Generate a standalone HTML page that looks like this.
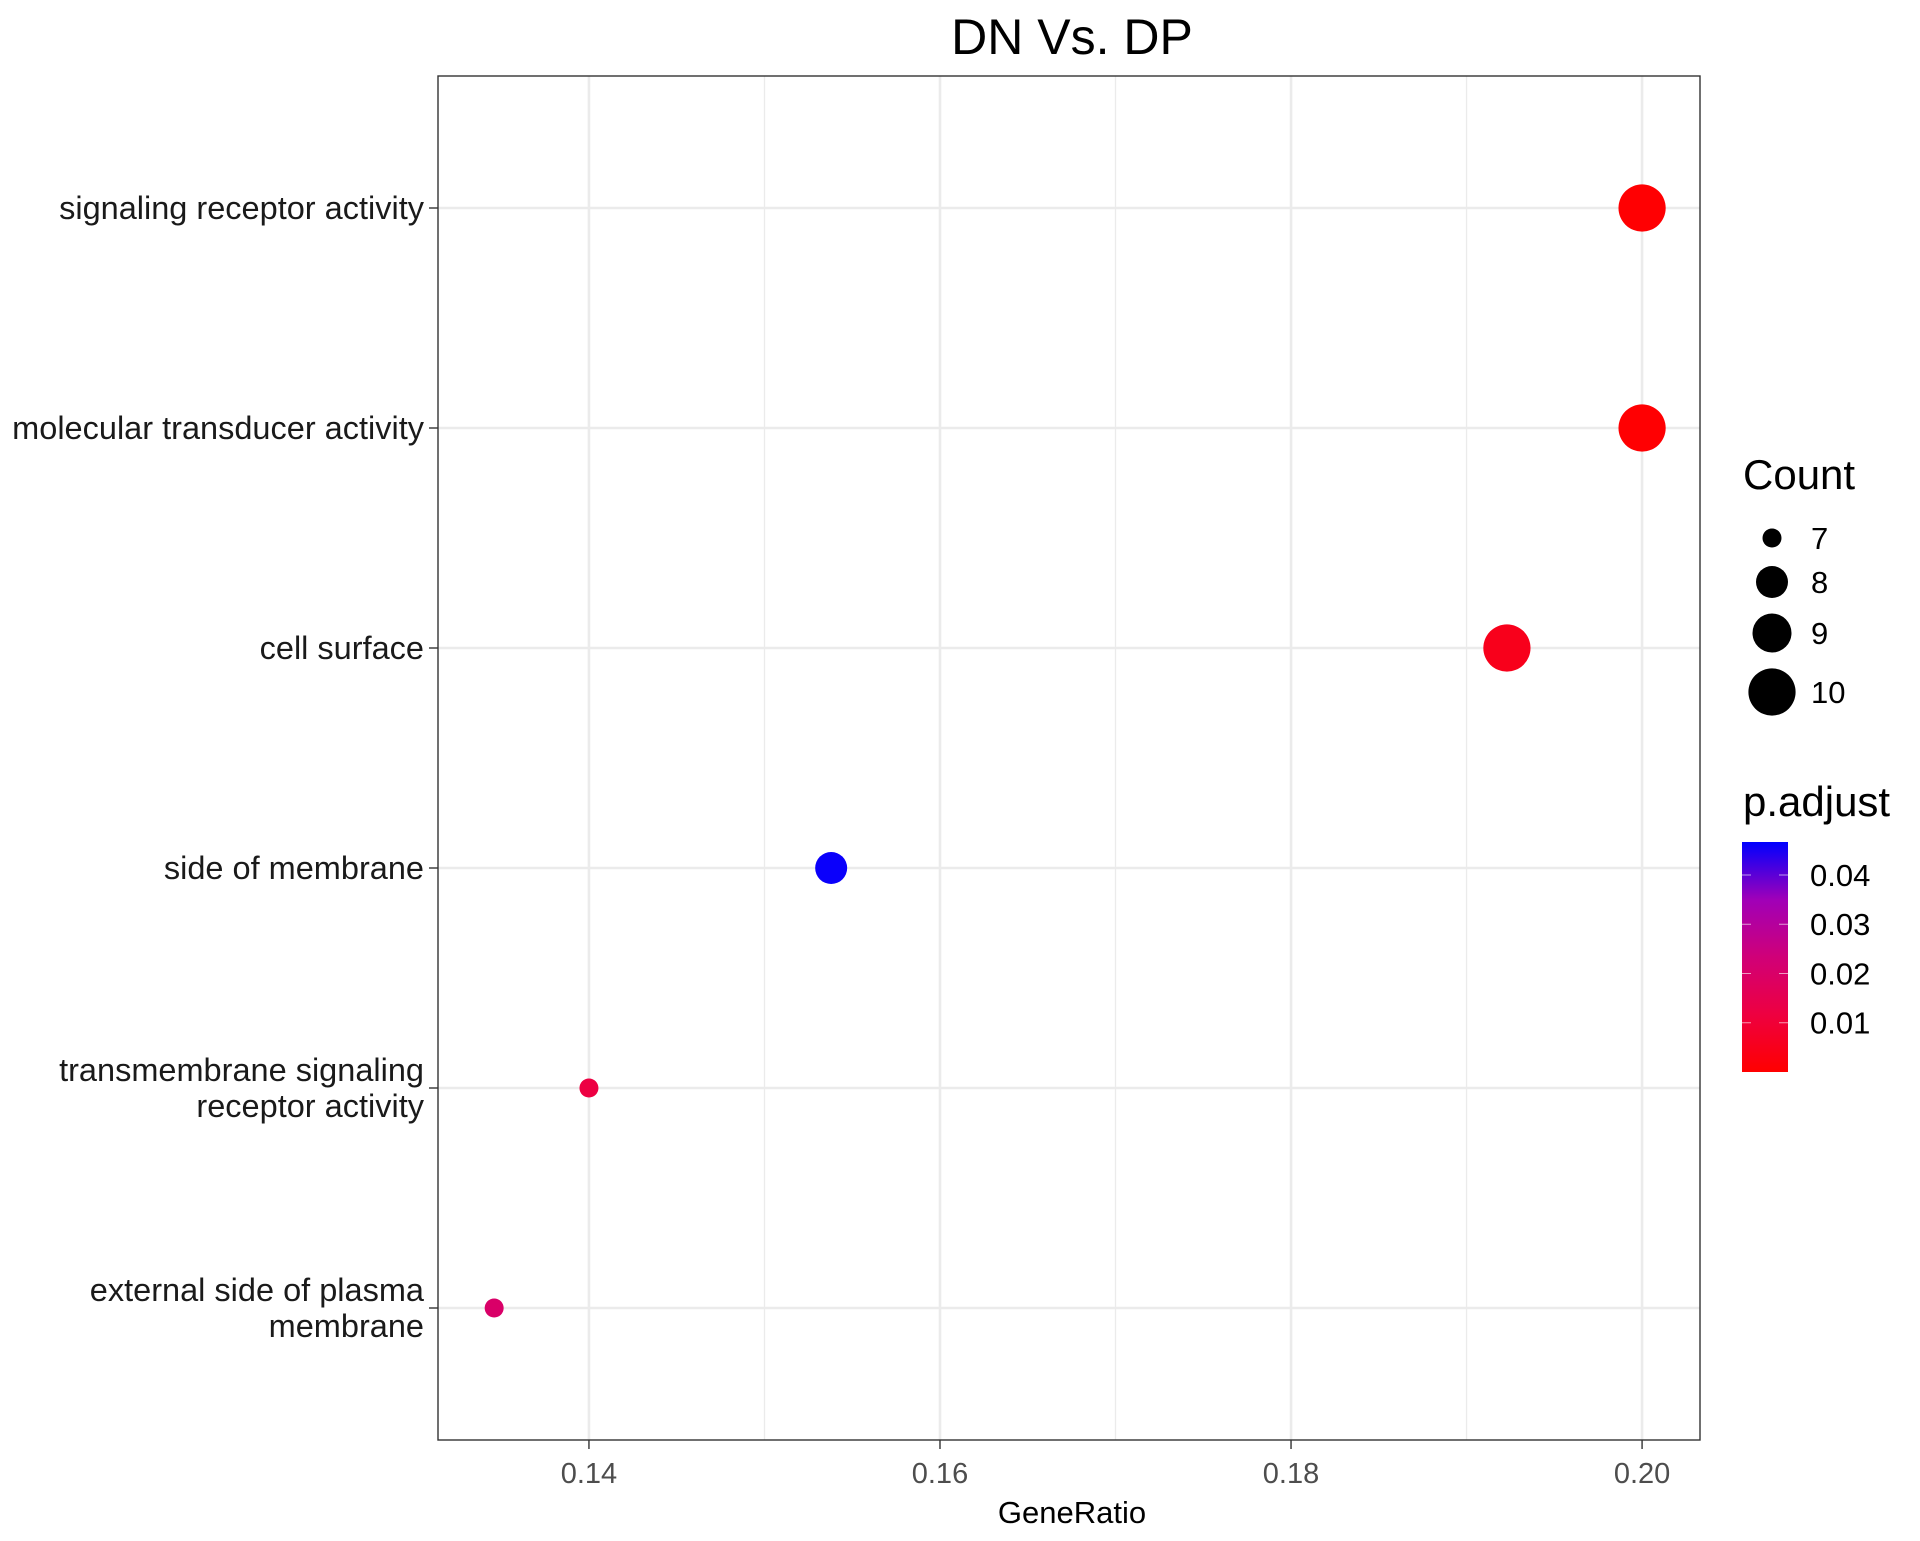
<!DOCTYPE html>
<html><head><meta charset="utf-8"><style>
body{margin:0;background:#fff}
svg text{font-family:"Liberation Sans",Arial,sans-serif}
</style></head><body>
<svg id="chart" width="1920" height="1536" viewBox="0 0 1920 1536" xmlns="http://www.w3.org/2000/svg">
<defs><linearGradient id="pg" x1="0" y1="1" x2="0" y2="0">
<stop offset="0" stop-color="#FF0000"/><stop offset="0.25" stop-color="#EE0040"/><stop offset="0.5" stop-color="#D00078"/><stop offset="0.75" stop-color="#A000B8"/><stop offset="1" stop-color="#0000FF"/></linearGradient></defs>
<text x="1072" y="54" font-size="50" text-anchor="middle">DN Vs. DP</text>
<g id="grid"></g>
<g id="marks"></g>
<rect x="438" y="76" width="1262" height="1364" fill="none" stroke="#333" stroke-width="1.4"/>
<g id="axes"></g>
<text x="1072" y="1523" font-size="31" text-anchor="middle">GeneRatio</text>
<g id="legend"></g>
</svg>
<script>
const categories=["signaling receptor activity","molecular transducer activity","cell surface","side of membrane","transmembrane signaling\nreceptor activity","external side of plasma\nmembrane"];
const geneRatio=[0.2,0.2,0.1923,0.1538,0.14,0.1346];
const counts=[10,10,10,8,7,7];
const pAdjust=[0.0003,0.0003,0.005,0.046,0.012,0.02];
const xTicks=[0.14,0.16,0.18,0.20];
const xTickLabels=["0.14","0.16","0.18","0.20"];
const xMinor=[0.15,0.17,0.19];
const sizeBreaks=[7,8,9,10];
const colorTicks=[0.01,0.02,0.03,0.04];
const colorTickLabels=["0.01","0.02","0.03","0.04"];

const NS="http://www.w3.org/2000/svg";
const X0=438,X1=1700,Y0=76,Y1=1440;
const xMin=0.1314,xMax=0.2033;
const xs=v=>X0+(v-xMin)/(xMax-xMin)*(X1-X0);
const ys=i=>Y0+(i+0.6)/6.2*(Y1-Y0);
const rs=c=>[9.5,16,19.5,23.6][c-7];
const pMin=0.0,pMax=0.0467;
const stops=[[0,[255,0,0]],[0.25,[238,0,64]],[0.5,[208,0,120]],[0.75,[160,0,184]],[1,[0,0,255]]];
function col(p){let t=Math.max(0,Math.min(1,(p-pMin)/(pMax-pMin)));for(let k=1;k<stops.length;k++){if(t<=stops[k][0]){const a=stops[k-1],b=stops[k];const u=(t-a[0])/(b[0]-a[0]);const c=a[1].map((v,j)=>Math.round(v+(b[1][j]-v)*u));return`rgb(${c})`;}}return"rgb(0,0,255)";}
function mk(tag,attrs,parent){const e=document.createElementNS(NS,tag);for(const k in attrs)e.setAttribute(k,attrs[k]);parent.appendChild(e);return e;}
const grid=document.getElementById('grid'),marks=document.getElementById('marks'),axes=document.getElementById('axes'),leg=document.getElementById('legend');
xMinor.forEach(v=>{const l=mk('line',{x1:xs(v),x2:xs(v),y1:Y0,y2:Y1,stroke:'#EBEBEB','stroke-width':1.3},grid);

});
xTicks.forEach((v,i)=>{const l=mk('line',{x1:xs(v),x2:xs(v),y1:Y0,y2:Y1,stroke:'#EBEBEB','stroke-width':2.6},grid);


const t=mk('line',{x1:xs(v),x2:xs(v),y1:Y1,y2:Y1+9,stroke:'#333','stroke-width':1.4},axes);


const tx=mk('text',{x:xs(v),y:Y1+43,'font-size':29,'text-anchor':'middle',fill:'#4D4D4D'},axes);tx.textContent=xTickLabels[i];

});
categories.forEach((c,i)=>{const y=ys(i);
const l=mk('line',{x1:X0,x2:X1,y1:y,y2:y,stroke:'#EBEBEB','stroke-width':2.6},grid);


const t=mk('line',{x1:X0-9,x2:X0,y1:y,y2:y,stroke:'#333','stroke-width':1.4},axes);


const lines=c.split('\n');const tx=mk('text',{'font-size':32.5,'text-anchor':'end',fill:'#1a1a1a'},axes);


lines.forEach((s,j)=>{const ts=mk('tspan',{x:424,y:y+11+(j-(lines.length-1)/2)*36},tx);ts.textContent=s;});
const d=mk('circle',{cx:xs(geneRatio[i]),cy:y,r:rs(counts[i]),fill:col(pAdjust[i])},marks);

});
// legend
let t=mk('text',{x:1743,y:489,'font-size':42},leg);t.textContent='Count';


const ky=[538,582,633,692];
sizeBreaks.forEach((s,i)=>{const c=mk('circle',{cx:1772,cy:ky[i],r:rs(s),fill:'#000'},leg);


const tx=mk('text',{x:1811,y:ky[i]+11,'font-size':31},leg);tx.textContent=String(s);

});
t=mk('text',{x:1743,y:816,'font-size':42},leg);t.textContent='p.adjust';


const CB0=842,CB1=1072;const cy=p=>CB1-(p-pMin)/(pMax-pMin)*(CB1-CB0);
const bar=mk('rect',{x:1742,y:CB0,width:46,height:CB1-CB0,fill:'url(#pg)'},leg);


colorTicks.forEach((p,i)=>{const y=cy(p);
[[1742,1751],[1779,1788]].forEach(a=>{const l=mk('line',{x1:a[0],x2:a[1],y1:y,y2:y,stroke:'#fff','stroke-opacity':0.6,'stroke-width':1},leg);

});
const tx=mk('text',{x:1810,y:y+11,'font-size':31},leg);tx.textContent=colorTickLabels[i];

});
</script>
</body></html>
